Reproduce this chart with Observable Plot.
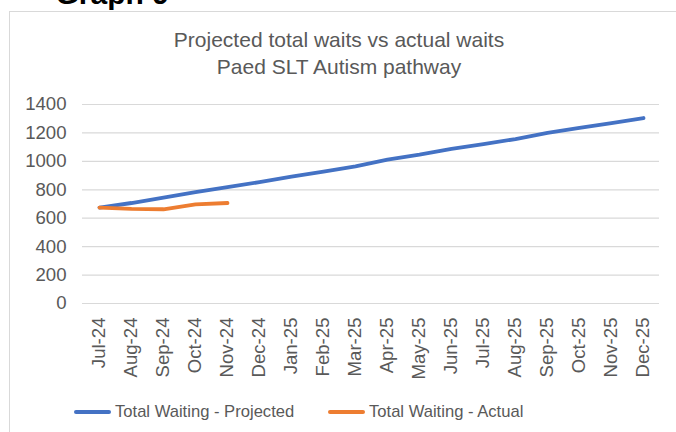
<!DOCTYPE html>
<html>
<head>
<meta charset="utf-8">
<script src="https://cdn.jsdelivr.net/npm/d3@7"></script>
<script src="https://cdn.jsdelivr.net/npm/@observablehq/plot@0.6"></script>
<style>
  html, body { margin: 0; padding: 0; background: #fff; }
  #wrap { position: relative; width: 676px; height: 432px; overflow: hidden; background: #fff;
          font-family: "Liberation Sans", Arial, sans-serif; }
  #frame { position: absolute; left: 9px; top: 11px; width: 720px; height: 500px; border: 1px solid #d9d9d9; }
  #graph { position: absolute; left: 55.5px; top: -21.4px; font-size: 30px; line-height: 30px; font-weight: bold; color: #000; white-space: nowrap; }
  #title { position: absolute; left: 0; top: 25.6px; width: 678px; text-align: center; font-size: 21px; line-height: 27px; color: #595959; }
  #chart { position: absolute; left: 0; top: 0; }
  .lg-line { position: absolute; height: 3.8px; border-radius: 2px; }
  .lg-text { position: absolute; font-size: 16.6px; line-height: 16.6px; color: #595959; white-space: nowrap; }
</style>
</head>
<body>
<div id="wrap">
  <div id="frame"></div>
  <div id="graph">Graph 9</div>
  <div id="title">Projected total waits vs actual waits<br>Paed SLT Autism pathway</div>
  <div id="chart"></div>
  <div class="lg-line" style="left:74px; top:410.4px; width:37px; background:#4472C4;"></div>
  <div class="lg-text" style="left:115px; top:403.6px;">Total Waiting - Projected</div>
  <div class="lg-line" style="left:328px; top:410.4px; width:37px; background:#ED7D31;"></div>
  <div class="lg-text" style="left:369px; top:403.6px;">Total Waiting - Actual</div>
</div>
<script>
const months = ["Jul-24","Aug-24","Sep-24","Oct-24","Nov-24","Dec-24","Jan-25","Feb-25","Mar-25",
                "Apr-25","May-25","Jun-25","Jul-25","Aug-25","Sep-25","Oct-25","Nov-25","Dec-25"];
const projected = [675, 707, 745, 783, 818, 854, 893, 928, 965, 1012, 1047, 1088, 1121, 1157, 1200, 1236, 1269, 1305];
const actual = [675, 666, 663, 697, 707];
const yTicks = [0, 200, 400, 600, 800, 1000, 1200, 1400];
const seriesNames = ["Total Waiting - Projected", "Total Waiting - Actual"];

const projData = months.map((m, i) => ({month: m, value: projected[i], series: seriesNames[0]}));
const actData = actual.map((v, i) => ({month: months[i], value: v, series: seriesNames[1]}));

const chart = Plot.plot({
  width: 676,
  height: 392,
  marginTop: 104,
  marginBottom: 89,
  marginLeft: 82,
  marginRight: 17,
  style: { fontFamily: "'Liberation Sans', Arial, sans-serif", background: "transparent" },
  x: { type: "point", domain: months, padding: 0.5 },
  y: { domain: [0, 1400] },
  marks: [
    Plot.gridY(yTicks, { stroke: "#d9d9d9", strokeOpacity: 1, strokeWidth: 1.2 }),
    Plot.axisY(yTicks, { tickSize: 0, tickPadding: 16, fontSize: 18.6, fill: "#595959", label: null, tickFormat: d => String(d) }),
    Plot.axisX({ tickSize: 0, tickPadding: 14, tickRotate: -90, fontSize: 18.6, fill: "#595959", label: null }),
    Plot.line(projData, { x: "month", y: "value", stroke: "#4472C4", strokeWidth: 3.8, strokeLinecap: "round", strokeLinejoin: "round" }),
    Plot.line(actData, { x: "month", y: "value", stroke: "#ED7D31", strokeWidth: 3.8, strokeLinecap: "round", strokeLinejoin: "round" })
  ]
});
document.getElementById("chart").appendChild(chart);
</script>
</body>
</html>
